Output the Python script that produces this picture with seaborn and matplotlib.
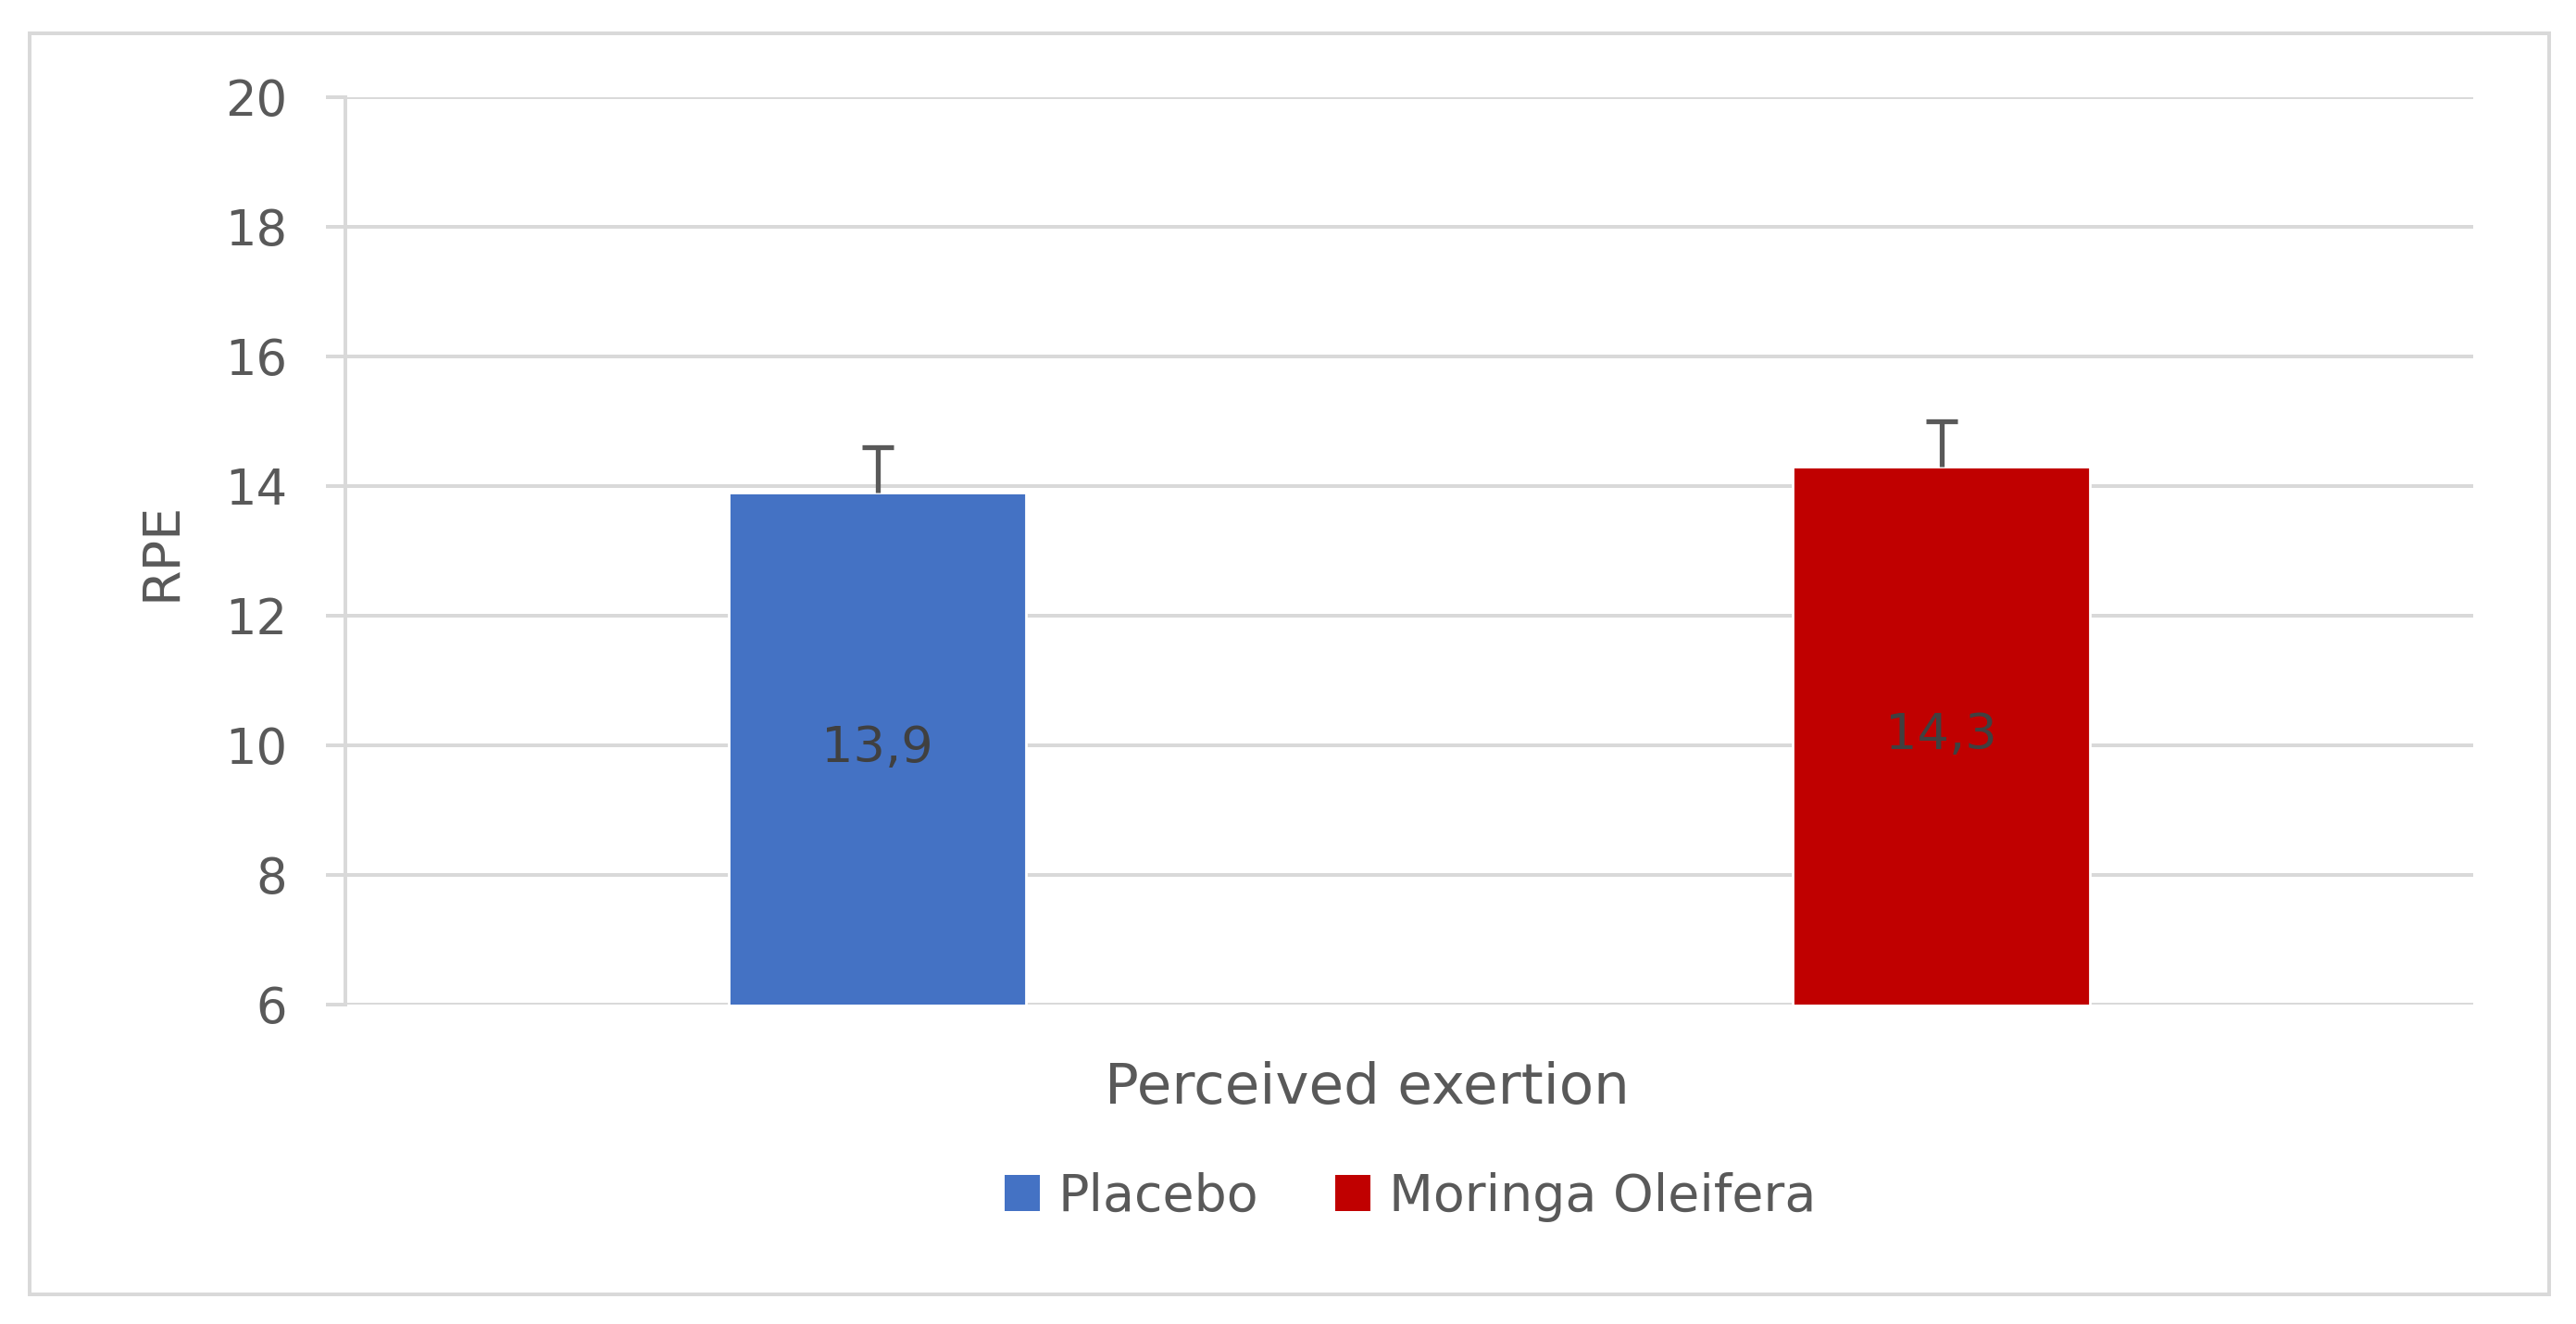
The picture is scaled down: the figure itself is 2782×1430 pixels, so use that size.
import numpy as np
import pandas as pd
import matplotlib.pyplot as plt
import seaborn as sns
from matplotlib.patches import Rectangle

# chart values
groups = ['Placebo', 'Moringa Oleifera']
rpe_means = [13.9, 14.3]
rpe_err = [0.7, 0.7]
bar_colors = ['#4472C4', '#C00000']
y_ticks = [6, 8, 10, 12, 14, 16, 18, 20]

data = pd.DataFrame({'group': groups, 'RPE': rpe_means})

sns.set_style('white')
plt.rcParams['font.family'] = ['DejaVu Sans']

fig = plt.figure(figsize=(13.91, 7.15), dpi=200)
ax = fig.add_axes([0.1341, 0.2413, 0.8260, 0.6853])

grid_col = '#d9d9d9'
text_col = '#595959'

sns.barplot(data=data, x='group', y='RPE', hue='group',
            palette=dict(zip(groups, bar_colors)), width=0.28,
            saturation=1, legend=False, ax=ax, zorder=3)

# one-sided (upper) error bars
xpos = list(range(len(groups)))
eb = ax.errorbar(xpos, rpe_means, yerr=[[0] * len(rpe_err), rpe_err], fmt='none',
                 ecolor=text_col, elinewidth=1.9, capsize=6.2, capthick=1.9, zorder=4)
# drop the caps sitting on the bar tops
for cap in eb[1]:
    if np.allclose(cap.get_ydata(), rpe_means):
        cap.set_visible(False)

# value labels in the middle of each bar
for i, v in enumerate(rpe_means):
    ax.text(i, (y_ticks[0] + v) / 2, f'{v:.1f}'.replace('.', ','),
            ha='center', va='center', fontsize=19.5, color='#404040', zorder=5)

ax.set_xlim(-0.5, 1.5)
ax.set_ylim(y_ticks[0], y_ticks[-1])
ax.set_yticks(y_ticks)
ax.set_xticks([])
ax.yaxis.grid(True, color=grid_col, linewidth=1.44, zorder=0)
ax.set_axisbelow(True)

for side in ['top', 'right', 'bottom']:
    ax.spines[side].set_visible(False)
ax.spines['left'].set_color(grid_col)
ax.spines['left'].set_linewidth(1.44)
ax.tick_params(axis='y', length=7.6, width=1.44, color=grid_col,
               labelsize=19, labelcolor=text_col, pad=15, left=True)

ax.set_ylabel('RPE', fontsize=20, color=text_col)
ax.yaxis.set_label_coords(-0.0866, 0.5)
ax.yaxis.label.set_verticalalignment('center')

ax.set_xlabel('Perceived exertion', fontsize=22, color=text_col)
ax.xaxis.set_label_coords(0.48, -0.1092)
ax.xaxis.label.set_verticalalignment('baseline')

# legend under the axis title
handles = [Rectangle((0, 0), 1, 1, facecolor=c, edgecolor='none') for c in bar_colors]
fig.legend(handles, groups, loc='center', bbox_to_anchor=(1523 / 2782, 1 - 1293 / 1430),
           ncol=2, frameon=False, fontsize=20, labelcolor=text_col,
           handlelength=0.68, handleheight=0.7, handletextpad=0.35, columnspacing=1.5)

# outer chart border
fig.patches.append(Rectangle((32 / 2782, 1 - 1398 / 1430), (2753 - 32) / 2782,
                             (1398 - 36) / 1430, transform=fig.transFigure,
                             fill=False, edgecolor=grid_col, linewidth=1.44))

fig.savefig('out.png', dpi=200, facecolor='white')
